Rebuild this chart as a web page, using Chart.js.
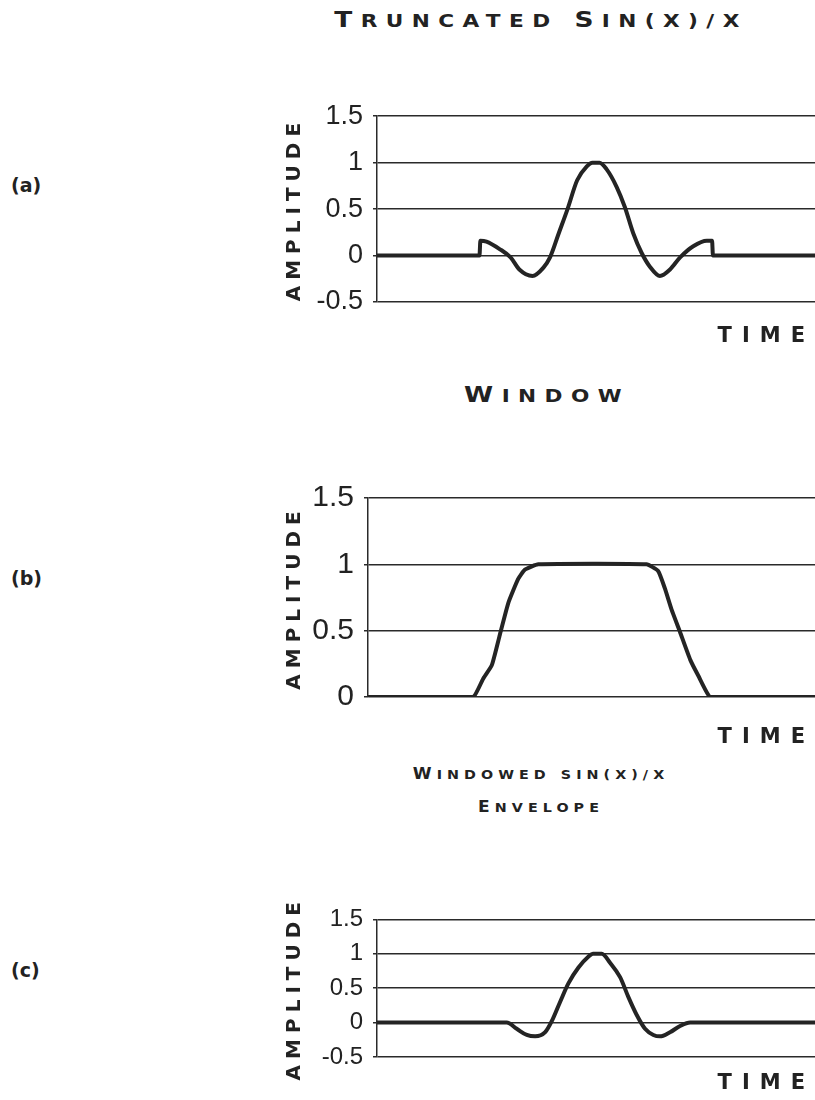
<!DOCTYPE html>
<html>
<head>
<meta charset="utf-8">
<script src="https://cdn.jsdelivr.net/npm/chart.js@4.4.1/dist/chart.umd.min.js"></script>
<style>
  html, body { margin: 0; padding: 0; background: #fff; }
  body { position: relative; width: 815px; height: 1100px; overflow: hidden; }
  canvas { position: absolute; left: 270px; }
  .heading {
    position: absolute;
    white-space: nowrap;
    font: bold 18px "DejaVu Sans", sans-serif;
    text-transform: uppercase;
    line-height: 22px;
    letter-spacing: 7px;
    color: #222;
    transform: translateX(-50%) scaleX(1.2);
  }
  .heading .cap { font-size: 22px; line-height: 22px; }
  .heading.small { font-size: 13px; line-height: 16px; letter-spacing: 4.6px; transform: translateX(-50%) scaleX(1.1); }
  .heading.small .cap { font-size: 15.5px; line-height: 16px; }
  .panel {
    position: absolute;
    left: 11px;
    font: bold 19px "DejaVu Sans", sans-serif;
    line-height: 20px;
    color: #222;
  }
</style>
</head>
<body>
<div class="heading" style="left:541px; top:9px;"><span class="cap">T</span>runcated <span class="cap">S</span>in(x)/x</div>
<div class="heading" style="left:547px; top:384px;"><span class="cap">W</span>indow</div>
<div class="heading small" style="left:541px; top:766px;"><span class="cap">W</span>indowed sin(x)/x</div>
<div class="heading small" style="left:541px; top:799px;"><span class="cap">E</span>nvelope</div>

<div class="panel" style="top:175px;">(a)</div>
<div class="panel" style="top:568px;">(b)</div>
<div class="panel" style="top:960px;">(c)</div>

<canvas id="chartA" width="545" height="260" style="top:90px;"></canvas>
<canvas id="chartB" width="545" height="290" style="top:470px;"></canvas>
<canvas id="chartC" width="545" height="205" style="top:895px;"></canvas>

<script>
// (a) truncated sin(x)/x
const timeA = [0, 20, 23.4, 23.6, 25, 28, 30.5, 32.5, 35.5, 38, 39.5, 41.5, 43.5, 45.7, 47.9, 49.2,
  50.8, 52.4, 54.7, 56.6, 58.5, 60.4, 62.3, 64.6, 66.9, 69.2, 72.2, 75.3, 76.5, 76.7, 80, 100];
const ampA = [0, 0, 0, 0.16, 0.15, 0.07, -0.02, -0.15, -0.22, -0.13, -0.02, 0.24, 0.5, 0.81, 0.96, 1.0,
  1.0, 0.93, 0.74, 0.52, 0.24, 0.03, -0.12, -0.22, -0.15, -0.02, 0.1, 0.16, 0.16, 0, 0, 0];

// (b) window
const timeB = [0, 20, 23.6, 25.8, 27.7, 29.5, 31.4, 33.6, 35.1, 38.1, 62.3, 64.9, 66.4, 67.9, 69.8, 72.1, 73.9, 76.5, 80, 100];
const ampB = [0, 0, 0, 0.14, 0.24, 0.47, 0.71, 0.89, 0.96, 1.0, 1.0, 0.95, 0.82, 0.66, 0.49, 0.28, 0.16, 0, 0, 0];

// (c) windowed sin(x)/x
const timeC = [0, 26, 29.6, 31.9, 34.2, 36.1, 38.4, 39.9, 41.8, 43.7, 46.0, 48.3, 49.3, 51.3, 53.2, 55.5,
  57.4, 59.3, 61.2, 63.1, 64.6, 66.9, 69.2, 71.5, 75, 100];
const ampC = [0, 0, 0, -0.09, -0.18, -0.2, -0.14, 0.02, 0.3, 0.57, 0.8, 0.96, 1.0, 1.0, 0.87, 0.66,
  0.37, 0.11, -0.09, -0.18, -0.2, -0.14, -0.05, 0, 0, 0];

// amplitude tick labels
const ampTicks = [-0.5, 0, 0.5, 1, 1.5];

// canvas has no css letter-spacing, so set it only while the axis titles are drawn
const spacedTitles = {
  id: 'spacedTitles',
  beforeDraw(chart) {
    Object.values(chart.scales).forEach((scale) => {
      if (scale._spaced) return;
      const drawTitle = scale.drawTitle.bind(scale);
      const spacing = scale.axis === 'x' ? '10px' : '6px';
      scale.drawTitle = () => {
        chart.ctx.save();
        chart.ctx.letterSpacing = spacing;
        drawTitle();
        chart.ctx.restore();
      };
      scale._spaced = true;
    });
  },
};

const makeChart = (id, times, amps, cfg) => {
  const ctx = document.getElementById(id).getContext('2d');
  return new Chart(ctx, {
    type: 'line',
    data: {
      datasets: [
        {
          data: times.map((t, i) => ({ x: t, y: amps[i] })),
          borderColor: '#242424',
          borderWidth: 4,
          pointRadius: 0,
          tension: cfg.tension,
          cubicInterpolationMode: cfg.mode,
          borderJoinStyle: 'round',
          borderCapStyle: 'round',
          fill: false,
        },
      ],
    },
    options: {
      responsive: false,
      animation: false,
      events: [],
      layout: { padding: { top: cfg.padTop, left: 0, right: 0, bottom: 0 } },
      plugins: {
        legend: { display: false },
        tooltip: { enabled: false },
      },
      scales: {
        x: {
          type: 'linear',
          min: 0,
          max: 100,
          ticks: { display: false },
          grid: { display: false },
          border: { display: false },
          title: {
            display: true,
            text: 'TIME',
            align: 'end',
            color: '#222',
            font: { family: 'DejaVu Sans', weight: 'bold', size: 21 },
            padding: { top: 0, bottom: cfg.timePad },
          },
          afterFit: (scale) => { scale.height = cfg.xHeight; },
        },
        y: {
          min: cfg.min,
          max: 1.5,
          afterBuildTicks: (scale) => {
            scale.ticks = ampTicks.filter((v) => v >= cfg.min).map((v) => ({ value: v }));
          },
          ticks: {
            color: '#222',
            padding: 10,
            font: { family: '"Liberation Sans", sans-serif', size: cfg.tickSize },
            callback: (value) => String(value),
          },
          grid: {
            color: '#2a2a2a',
            lineWidth: 1.5,
            tickLength: 4,
          },
          border: { display: true, color: '#2a2a2a', width: 1.5 },
          title: {
            display: true,
            text: 'AMPLITUDE',
            color: '#222',
            font: { family: 'DejaVu Sans', weight: 'bold', size: 20 },
            padding: { top: 13, bottom: 0 },
          },
          afterFit: (scale) => { scale.width = cfg.yWidth; },
        },
      },
    },
    plugins: [spacedTitles],
  });
};

makeChart('chartA', timeA, ampA, {
  mode: 'monotone', tension: 0.3, padTop: 14, xHeight: 48, timePad: 1, yWidth: 107, min: -0.5, tickSize: 27,
});
makeChart('chartB', timeB, ampB, {
  mode: 'default', tension: 0.15, padTop: 14, xHeight: 63, timePad: 10, yWidth: 98, min: 0, tickSize: 30,
});
makeChart('chartC', timeC, ampC, {
  mode: 'monotone', tension: 0.3, padTop: 16, xHeight: 43, timePad: 4, yWidth: 107, min: -0.5, tickSize: 24,
});
</script>
</body>
</html>
